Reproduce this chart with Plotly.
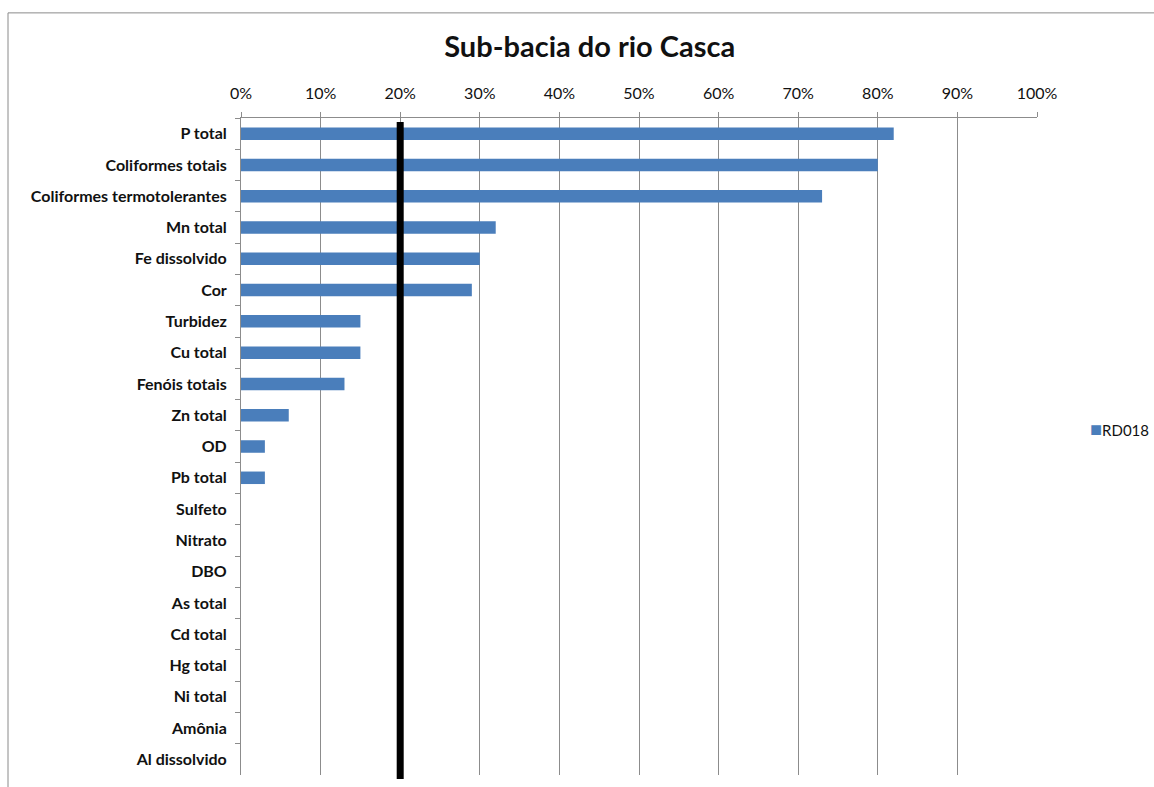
import plotly.graph_objects as go

# Water-quality parameters, share of samples out of compliance
parametros = [
    "P total", "Coliformes totais", "Coliformes termotolerantes", "Mn total",
    "Fe dissolvido", "Cor", "Turbidez", "Cu total", "Fenóis totais", "Zn total",
    "OD", "Pb total", "Sulfeto", "Nitrato", "DBO", "As total", "Cd total",
    "Hg total", "Ni total", "Amônia", "Al dissolvido",
]
rd018 = [0.82, 0.80, 0.73, 0.32, 0.30, 0.29, 0.15, 0.15, 0.13, 0.06,
         0.03, 0.03, 0, 0, 0, 0, 0, 0, 0, 0, 0]
serie = "RD018"
limite = 0.20
x_ticks = [i / 10 for i in range(11)]

FONT = "Lato, 'Open Sans', sans-serif"
GRID = "#8c8c8c"
BAR = "#4A7EBB"

fig = go.Figure()
fig.add_trace(go.Bar(
    y=parametros, x=rd018, orientation="h", name=serie,
    marker=dict(color=BAR, line=dict(width=0)),
    showlegend=False,
))

fig.update_layout(
    width=1154, height=787,
    margin=dict(l=241, r=117, t=118, b=12, autoexpand=False),
    paper_bgcolor="white", plot_bgcolor="white",
    bargap=0.6,
    title=dict(text="<b>Sub-bacia do rio Casca</b>", x=0.511, xanchor="center",
               y=0.94, yanchor="middle",
               font=dict(family=FONT, size=29, color="#111")),
    font=dict(family=FONT, color="#111"),
)

fig.update_xaxes(
    side="top", range=[0, 1], tickvals=x_ticks, tickformat=".0%",
    showgrid=True, gridcolor=GRID, gridwidth=1,
    showline=True, linecolor=GRID, linewidth=1,
    ticks="outside", ticklen=5, tickcolor=GRID,
    ticklabelstandoff=7,
    tickfont=dict(family=FONT, size=16, color="#111"),
    zeroline=False,
)
fig.update_yaxes(
    categoryorder="array", categoryarray=parametros, autorange="reversed",
    showline=True, linecolor=GRID, linewidth=1,
    ticks="outside", ticklen=5, tickcolor=GRID, tickson="boundaries",
    ticklabelstandoff=10,
    tickfont=dict(family=FONT, size=16, color="#111", weight="bold"),
    showgrid=False, zeroline=False,
)

# series key
fig.add_annotation(
    xref="paper", yref="paper", x=1.064, y=0.528, xanchor="left", yanchor="middle",
    text=f"<span style='color:{BAR};font-size:20px'>■</span>{serie}", showarrow=False,
    font=dict(family=FONT, size=15, color="#111"),
)

# threshold line
fig.add_shape(type="line", xref="x", yref="paper",
              x0=limite, x1=limite, y0=-0.006, y1=0.994,
              line=dict(color="black", width=7))

# chart frame
fig.add_shape(type="rect", xref="paper", yref="paper",
              x0=-0.2927, x1=1.3, y0=-0.2, y1=1.16,
              line=dict(color="#8a8a8a", width=1), layer="below")

fig.write_html("out.html")
